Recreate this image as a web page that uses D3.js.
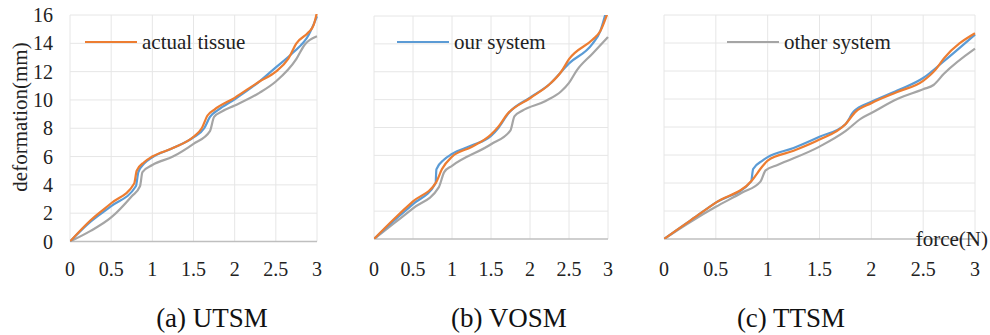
<!DOCTYPE html>
<html>
<head>
    <title>Force vs deformation</title>
    <script src="https://cdnjs.cloudflare.com/ajax/libs/d3/7.8.5/d3.min.js"></script>
    <style>
        body { margin: 0; background: #fff; }
        svg { display: block; }
        svg text { font-family: "Liberation Serif", "Times New Roman", Tinos, "DejaVu Serif", serif; }
        .grid line { stroke: #e6e6e6; stroke-width: 1; }
        .tick-label { font-size: 20px; fill: #222; }
    </style>
</head>
<body>
    <div id="chart"></div>

    <script>
        // tick labels
        const xTicks = [0, 0.5, 1, 1.5, 2, 2.5, 3];
        const xTickLabels = ['0', '0.5', '1', '1.5', '2', '2.5', '3'];
        const yTicks = [0, 2, 4, 6, 8, 10, 12, 14, 16];
        const yTickLabels = ['0', '2', '4', '6', '8', '10', '12', '14', '16'];

        const seriesNames = ['other system', 'our system', 'actual tissue'];
        const seriesColors = ['#a5a5a5', '#5b9bd5', '#ed7d31'];

        // (a) UTSM  [force, deformation]
        const utsmActual = [[0,0],[0.25,1.5],[0.5,2.7],[0.78,4.1],[0.81,5.0],[0.9,5.6],[1,6.0],[1.25,6.6],[1.5,7.4],[1.6,8.0],[1.67,8.9],[1.75,9.3],[2,10.15],[2.3,11.3],[2.5,12.0],[2.65,12.9],[2.75,14.0],[2.9,14.8],[2.96,15.3],[3,16.2]];
        const utsmOurs = [[0,0],[0.25,1.4],[0.5,2.5],[0.8,3.9],[0.83,4.9],[0.9,5.5],[1,5.95],[1.25,6.6],[1.5,7.35],[1.63,8.0],[1.7,8.8],[1.8,9.3],[2,10.05],[2.3,11.3],[2.5,12.3],[2.7,13.3],[2.9,14.6],[3,15.9]];
        const utsmOther = [[0,0],[0.25,0.75],[0.5,1.7],[0.75,3.2],[0.85,3.9],[0.88,4.9],[1,5.4],[1.25,6.0],[1.5,6.9],[1.7,7.8],[1.75,8.8],[1.85,9.2],[2,9.6],[2.3,10.5],[2.5,11.3],[2.75,12.9],[2.85,13.9],[3,14.5]];

        // (b) VOSM
        const vosmActual = [[0,0],[0.25,1.4],[0.5,2.7],[0.8,4.1],[0.87,5.0],[1,5.9],[1.25,6.6],[1.5,7.5],[1.6,8.1],[1.7,8.9],[2,10.1],[2.25,11.1],[2.4,12.0],[2.5,12.9],[2.8,14.3],[2.9,14.9],[3,16.3]];
        const vosmOurs = [[0,0],[0.25,1.3],[0.5,2.5],[0.79,4.0],[0.8,5.0],[0.9,5.7],[1,6.1],[1.25,6.7],[1.5,7.4],[1.6,8.0],[1.72,9.0],[2,10.15],[2.25,11.1],[2.5,12.6],[2.8,14.0],[2.9,14.9],[2.97,16.2]];
        const vosmOther = [[0,0],[0.25,1.1],[0.5,2.2],[0.83,3.7],[0.9,4.8],[1,5.25],[1.5,6.8],[1.75,7.8],[1.8,8.8],[1.9,9.2],[2.2,9.9],[2.4,10.6],[2.5,11.2],[2.6,12.1],[2.8,13.3],[3,14.5]];

        // (c) TTSM
        const ttsmActual = [[0,0],[0.25,1.3],[0.5,2.6],[0.85,4.2],[0.95,5.2],[1,5.6],[1.25,6.3],[1.5,7.1],[1.75,8.2],[1.85,9.1],[2,9.7],[2.25,10.5],[2.5,11.3],[2.62,12.1],[2.7,12.9],[3,14.7]];
        const ttsmOurs = [[0,0],[0.25,1.3],[0.5,2.6],[0.84,4.1],[0.86,5.0],[0.95,5.6],[1,5.85],[1.25,6.5],[1.5,7.3],[1.75,8.2],[1.83,9.1],[2,9.8],[2.25,10.6],[2.5,11.5],[2.7,12.7],[3,14.6]];
        const ttsmOther = [[0,0],[0.25,1.2],[0.5,2.3],[0.75,3.3],[0.93,4.1],[0.98,4.9],[1.1,5.3],[1.5,6.6],[1.75,7.7],[1.9,8.6],[2,9.0],[2.25,10.0],[2.5,10.7],[2.6,11.0],[2.7,11.8],[3,13.6]];

        const width = 990;
        const height = 335;
        const serif = '"Liberation Serif", "Times New Roman", Tinos, "DejaVu Serif", serif';

        const panels = [
            {id: 'a', caption: '(a) UTSM', capX: 212, left: 70, right: 317, top: 15, bottom: 241.5,
             series: [utsmOther, utsmOurs, utsmActual], legend: 2, legX: 85, yLabels: true},
            {id: 'b', caption: '(b) VOSM', capX: 509, left: 374, right: 608, top: 16, bottom: 239,
             series: [vosmOther, vosmOurs, vosmActual], legend: 1, legX: 397},
            {id: 'c', caption: '(c) TTSM', capX: 791, left: 664, right: 975, top: 15, bottom: 239,
             series: [ttsmOther, ttsmOurs, ttsmActual], legend: 0, legX: 727, xTitle: true}
        ];

        const svg = d3.select('#chart')
            .append('svg')
            .attr('width', width)
            .attr('height', height)
            .attr('font-family', serif);

        panels.forEach(p => {
            const x = d3.scaleLinear().domain([0, 3]).range([p.left, p.right]);
            const y = d3.scaleLinear().domain([0, 16]).range([p.bottom, p.top]);
            const g = svg.append('g');

            // gridlines
            g.append('g').attr('class', 'grid')
                .selectAll('line').data(xTicks).join('line')
                .attr('x1', d => x(d)).attr('x2', d => x(d))
                .attr('y1', y(0)).attr('y2', y(16));
            g.append('g').attr('class', 'grid')
                .selectAll('line').data(yTicks.slice(1)).join('line')
                .attr('x1', x(0)).attr('x2', x(3))
                .attr('y1', d => y(d)).attr('y2', d => y(d));

            // x axis line
            g.append('line')
                .attr('x1', x(0)).attr('x2', x(3))
                .attr('y1', y(0)).attr('y2', y(0))
                .attr('stroke', '#bfbfbf').attr('stroke-width', 1.5);

            // x tick labels
            g.selectAll('text.xt').data(xTicks).join('text')
                .attr('class', 'tick-label xt')
                .attr('x', d => x(d))
                .attr('y', 276)
                .attr('text-anchor', 'middle')
                .text((d, i) => xTickLabels[i]);

            if (p.yLabels) {
                g.selectAll('text.yt').data(yTicks).join('text')
                    .attr('class', 'tick-label yt')
                    .attr('x', 53)
                    .attr('y', d => y(d))
                    .attr('dy', '0.35em')
                    .attr('text-anchor', 'end')
                    .text((d, i) => yTickLabels[i]);
                g.append('text')
                    .attr('transform', 'translate(27,117) rotate(-90)')
                    .attr('text-anchor', 'middle')
                    .style('font-size', '21px')
                    .attr('fill', '#222')
                    .text('deformation(mm)');
            }

            // clipped lines
            g.append('clipPath').attr('id', 'clip-' + p.id)
                .append('rect')
                .attr('x', x(0)).attr('y', y(16) - 1)
                .attr('width', x(3) - x(0) + 2).attr('height', y(0) - y(16) + 1);

            const line = d3.line()
                .x(d => x(d[0]))
                .y(d => y(d[1]))
                .curve(d3.curveMonotoneX);

            g.append('g').attr('clip-path', `url(#clip-${p.id})`)
                .selectAll('path').data(p.series).join('path')
                .attr('d', line)
                .attr('fill', 'none')
                .attr('stroke', (d, i) => seriesColors[i])
                .attr('stroke-width', 2.2)
                .attr('stroke-linejoin', 'round');

            // legend
            g.append('line')
                .attr('x1', p.legX).attr('x2', p.legX + 52)
                .attr('y1', 42).attr('y2', 42)
                .attr('stroke', seriesColors[p.legend]).attr('stroke-width', 2.2);
            g.append('text')
                .attr('x', p.legX + 57).attr('y', 49)
                .style('font-size', '21px').attr('fill', '#222')
                .text(seriesNames[p.legend]);

            if (p.xTitle) {
                g.append('text')
                    .attr('x', 988).attr('y', 246)
                    .attr('text-anchor', 'end')
                    .style('font-size', '21px').attr('fill', '#222')
                    .text('force(N)');
            }

            // caption
            svg.append('text')
                .attr('x', p.capX).attr('y', 327)
                .attr('text-anchor', 'middle')
                .style('font-size', '27px').attr('fill', '#111')
                .text(p.caption);
        });
    </script>
</body>
</html>
